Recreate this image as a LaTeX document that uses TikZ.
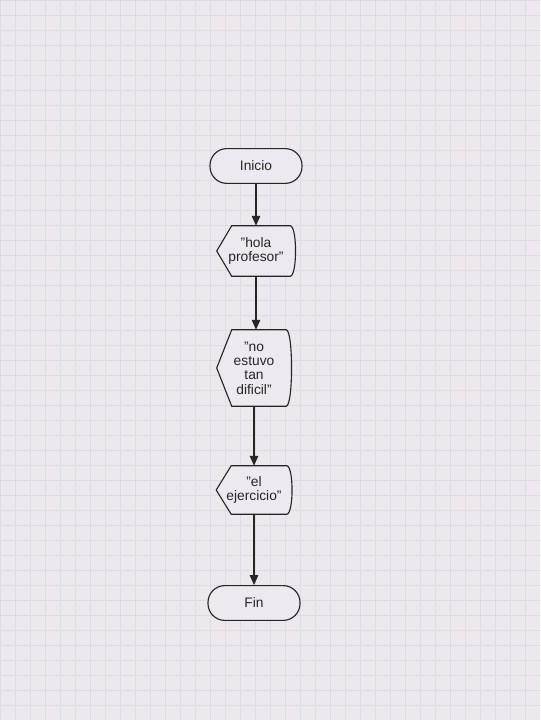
\documentclass[tikz,border=0pt]{standalone}
\usepackage{fontspec}
\setmainfont{Liberation Sans}
\usetikzlibrary{positioning,calc,arrows.meta}

\definecolor{fondo}{RGB}{236,232,238}
\definecolor{rejilla}{RGB}{222,220,228}
\definecolor{forma}{RGB}{236,234,240}

\newcommand{\cq}{\symbol{34}}

\tikzset{
  linea/.style={draw=black!85,line width=0.8pt},
  flecha/.style={draw=black!85,line width=0.8pt,-{Triangle[length=7pt,width=6pt]}},
  texto/.style={font=\fontsize{9.8}{10.2}\selectfont,align=center,text=black!85,inner sep=0pt},
  extremo/.style={texto,linea,fill=forma,rounded corners=12pt,minimum width=2.3cm,minimum height=0.87cm}
}

% forma de salida: punta a la izquierda, lado derecho curvo
\newcommand{\salida}[1]{
  \draw[linea,fill=forma] ($(#1.north west)+(15,0)$) -- (#1.west) -- ($(#1.south west)+(15,0)$)
    -- ($(#1.south east)+(-5,0)$) .. controls ($(#1.south east)+(2,-1)$) and ($(#1.north east)+(2,1)$) .. ($(#1.north east)+(-5,0)$)
    -- cycle;
}

\begin{document}
\begin{tikzpicture}[x=0.025cm,y=-0.025cm]
\useasboundingbox (0,0) rectangle (540,720);
\fill[fondo] (0,0) rectangle (540,720);
\draw[rejilla,line width=0.4pt,step=0.375cm] (0,0) grid (540,720);

\node[extremo] (inicio) at (256,166) {Inicio};

\node[texto,minimum width=1.95cm,minimum height=1.25cm] (hola) at (256,251) {};
\salida{hola}
\node[texto] at (hola) {\cq hola\\profesor\cq};

\node[texto,minimum width=1.85cm,minimum height=1.9cm] (dificil) at (254,368) {};
\salida{dificil}
\node[texto] at (dificil) {\cq no\\estuvo\\tan\\dificil\cq};

\node[texto,minimum width=1.875cm,minimum height=1.2cm] (ejercicio) at (254,490) {};
\salida{ejercicio}
\node[texto] at (ejercicio) {\cq el\\ejercicio\cq};

\node[extremo] (fin) at (254,603) {Fin};

\draw[flecha] (inicio) -- (hola);
\draw[flecha] (hola.south) -- (hola.south |- dificil.north);
\draw[flecha] (dificil) -- (ejercicio);
\draw[flecha] (ejercicio) -- (fin);
\end{tikzpicture}
\end{document}
